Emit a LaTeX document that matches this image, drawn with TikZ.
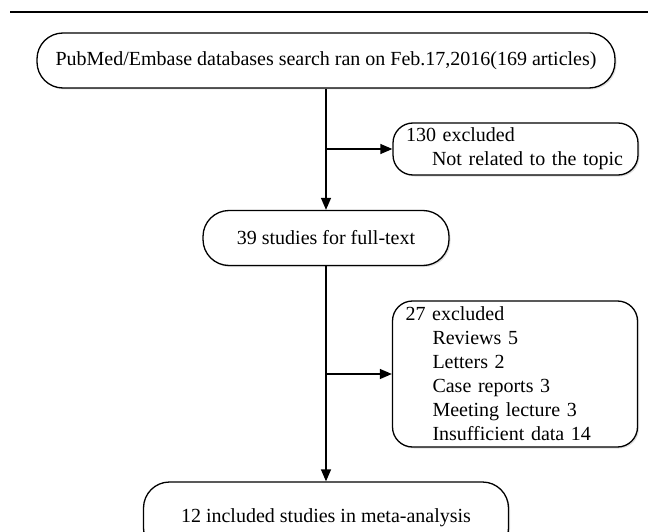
\documentclass[tikz,border=0pt]{standalone}
\usepackage{fontspec}
\setmainfont{Liberation Serif}
\usetikzlibrary{arrows.meta,shadows}

\begin{document}
\begin{tikzpicture}[x=1pt, y=-1pt, font=\fontsize{20}{24}\selectfont,
    every node/.style={draw, line width=1.3pt, fill=white, inner sep=0pt},
    stage/.style={rounded corners=26pt, minimum height=55pt, align=center,
      drop shadow={opacity=0.25, shadow xshift=1.5pt, shadow yshift=-1.5pt}},
    excl/.style={rounded corners=20pt, align=left, inner xsep=13pt, text width=219pt,
      drop shadow={opacity=0.25, shadow xshift=1.5pt, shadow yshift=-1.5pt}},
    flow/.style={-{Triangle[length=12pt,width=10pt]}, line width=1.3pt}]
        \useasboundingbox (0,0) rectangle (648,532);
        \draw[line width=2pt] (10,12) -- (648,12);
        \node[stage, minimum width=578pt] (search) at (326,60.5) {PubMed/Embase databases search ran on Feb.17,2016(169 articles)};
        \node[excl, minimum height=52pt] (notrelated) at (515.5,149) {130 excluded\\\hspace*{26pt}Not related to the topic};
        \node[stage, minimum width=246pt] (fulltext) at (326,238) {39 studies for full-text};
        \node[excl, minimum height=146pt] (excluded) at (515,374) {27 excluded\\\hspace*{27pt}Reviews 5\\\hspace*{27pt}Letters 2\\\hspace*{27pt}Case reports 3\\\hspace*{27pt}Meeting lecture 3\\\hspace*{27pt}Insufficient data 14};
        \node[stage, minimum width=365pt, minimum height=72pt] (included) at (326,518) {12 included studies in meta-analysis};
        \coordinate (split1) at (search.south |- notrelated.west);
        \coordinate (split2) at (fulltext.south |- excluded.west);
        \draw[flow] (search) -- (fulltext);
        \draw[flow] (fulltext) -- (included);
        \draw[flow] (split1) -- (notrelated);
        \draw[flow] (split2) -- (excluded);
    \end{tikzpicture}
\end{document}
